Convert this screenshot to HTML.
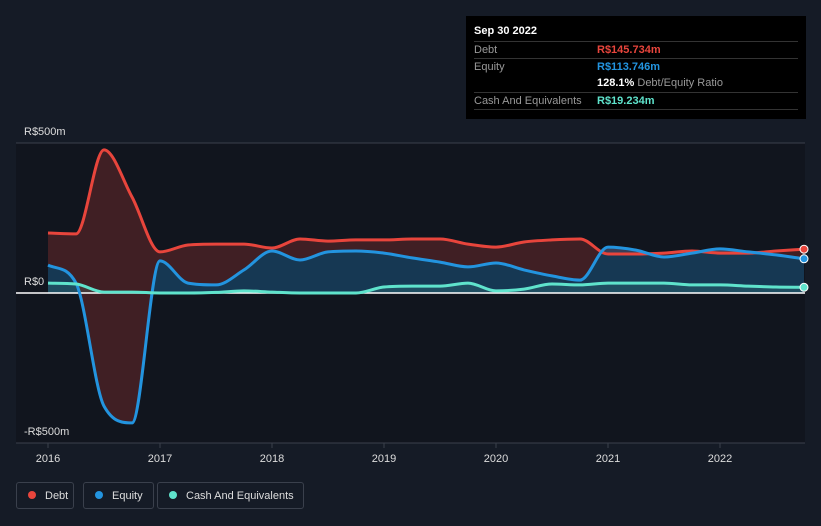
<!DOCTYPE html>
<html><head><meta charset="utf-8"><style>
body{margin:0;background:#151b26;font-family:"Liberation Sans",sans-serif;}
#c{position:relative;width:821px;height:526px;overflow:hidden;background:#151b26;}
.tip{position:absolute;left:466px;top:16px;width:340px;height:103px;background:#000;color:#ddd;font-size:11px;}
.row{position:absolute;left:8px;width:324px;border-top:1px solid #333;height:17px;line-height:17px;}
.lab{color:#999;position:absolute;left:0;}
.val{position:absolute;left:123px;font-weight:bold;}
.leg{position:absolute;top:482px;height:27px;border:1px solid #3a404c;border-radius:3px;color:#ddd;font-size:11px;line-height:27px;box-sizing:border-box;}
.dot{display:inline-block;width:8px;height:8px;border-radius:50%;margin:0 9px 0 11px;}
</style></head><body>
<div id="c">
<svg id="s" width="821" height="526" style="position:absolute;left:0;top:0"></svg>
<div class="tip">
 <div style="position:absolute;left:8px;top:9px;color:#fff;font-weight:bold">Sep 30 2022</div>
 <div class="row" style="top:25px"><span class="lab">Debt</span><span class="val" style="color:#e8453c">R$145.734m</span></div>
 <div class="row" style="top:42px"><span class="lab">Equity</span><span class="val" style="color:#2394df">R$113.746m</span></div>
 <div class="row" style="top:59px;border-top:none"><span class="val" style="color:#fff">128.1% <span style="color:#999;font-weight:normal">Debt/Equity Ratio</span></span></div>
 <div class="row" style="top:76px"><span class="lab">Cash And Equivalents</span><span class="val" style="color:#5fe3cc">R$19.234m</span></div>
 <div class="row" style="top:93px;height:0"></div>
</div>
<div class="leg" style="left:16px;width:58px"><span class="dot" style="background:#e8453c"></span>Debt</div>
<div class="leg" style="left:83px;width:71px"><span class="dot" style="background:#2394df"></span>Equity</div>
<div class="leg" style="left:157px;width:147px"><span class="dot" style="background:#5fe3cc"></span>Cash And Equivalents</div>
</div>
<script>
const years=[2016,2017,2018,2019,2020,2021,2022];
const yTicks=[500,0,-500];
const yTickLabels=["R$500m","R$0","-R$500m"];
const debt=[200,197,477,320,137,160,163,163,150,180,173,177,177,180,180,163,153,170,177,180,130,130,133,140,133,133,140,146];
const equity=[93,33,-377,-433,107,33,27,77,140,110,137,140,133,117,103,87,100,77,57,43,153,143,120,133,147,137,127,114];
const cash=[33,30,3,3,0,0,2,7,3,0,0,0,20,23,23,33,7,13,30,27,33,33,33,27,27,23,20,19];
const NS="http://www.w3.org/2000/svg",s=document.getElementById('s');
const X=t=>48+(t-2016)*112, Y=v=>293-v*0.3;
function el(tag,a,name){const e=document.createElementNS(NS,tag);for(const k in a)e.setAttribute(k,a[k]);


s.appendChild(e);return e;}
el('rect',{x:16,y:143,width:789,height:300,fill:'#11151e'},'plot-background');
el('line',{x1:16,x2:805,y1:143,y2:143,stroke:'#3a404c'},'top-gridline');
el('line',{x1:16,x2:805,y1:443,y2:443,stroke:'#3a404c'},'bottom-axis');
yTicks.forEach((v,i)=>{const t=el('text',{x:24,y:Y(v)-8,fill:'#ddd','font-size':11},'y-tick-label');t.textContent=yTickLabels[i];});
years.forEach(y=>{el('line',{x1:X(y),x2:X(y),y1:443,y2:448,stroke:'#3a404c'},'x-tick');
const t=el('text',{x:X(y),y:462,fill:'#ddd','font-size':11,'text-anchor':'middle'},'x-tick-label');t.textContent=y;});
function pts(d){return d.map((v,i)=>[X(2016+i*0.25),Y(v)]);}
// monotone cubic
function segs(p){const n=p.length,dx=[],m=[],t=[];
for(let i=0;i<n-1;i++){dx[i]=p[i+1][0]-p[i][0];m[i]=(p[i+1][1]-p[i][1])/dx[i];}
t[0]=m[0];t[n-1]=m[n-2];
for(let i=1;i<n-1;i++){t[i]=(m[i-1]*m[i]<=0)?0:(m[i-1]+m[i])/2;}
for(let i=0;i<n-1;i++){if(m[i]===0){t[i]=0;t[i+1]=0;continue;}const a=t[i]/m[i],b=t[i+1]/m[i],h=a*a+b*b;if(h>9){const k=3/Math.sqrt(h);t[i]=k*a*m[i];t[i+1]=k*b*m[i];}}
let out=[];for(let i=0;i<n-1;i++){const h=dx[i]/3;out.push(`C${p[i][0]+h},${p[i][1]+t[i]*h} ${p[i+1][0]-h},${p[i+1][1]-t[i+1]*h} ${p[i+1][0]},${p[i+1][1]}`);}return out;}
function path(p){return `M${p[0][0]},${p[0][1]}`+segs(p).join('');}
function rpath(p){const q=p.slice().reverse();return `L${q[0][0]},${q[0][1]}`+segs(q).join('');}
const z=Y(0);
const pd=pts(debt),pe=pts(equity),pc=pts(cash);
const defs=el('defs',{},'defs');
const cp=document.createElementNS(NS,'clipPath');cp.setAttribute('id','pos');


const cr=document.createElementNS(NS,'rect');cr.setAttribute('x',0);cr.setAttribute('y',0);cr.setAttribute('width',821);cr.setAttribute('height',z);


cp.appendChild(cr);defs.appendChild(cp);
el('path',{d:path(pd)+rpath(pe)+'Z',fill:'rgba(232,69,60,0.22)'},'debt-area');
el('path',{d:path(pe)+`L${pe[pe.length-1][0]},${z}L${pe[0][0]},${z}Z`,fill:'rgba(35,148,223,0.28)','clip-path':'url(#pos)'},'equity-area');
el('path',{d:path(pc)+`L${pc[pc.length-1][0]},${z}L${pc[0][0]},${z}Z`,fill:'rgba(95,227,204,0.12)'},'cash-area');
el('line',{x1:16,x2:805,y1:z,y2:z,stroke:'#fff','stroke-width':1.5},'zero-line');
[[pd,'#e8453c','debt'],[pe,'#2394df','equity'],[pc,'#5fe3cc','cash']].forEach(([p,c,n])=>{
el('path',{d:path(p),fill:'none',stroke:c,'stroke-width':3},n+'-line');
const l=p[p.length-1];el('circle',{cx:l[0],cy:l[1],r:4,fill:c,stroke:'#fff','stroke-width':1},n+'-end-marker');});
</script>
</body></html>
